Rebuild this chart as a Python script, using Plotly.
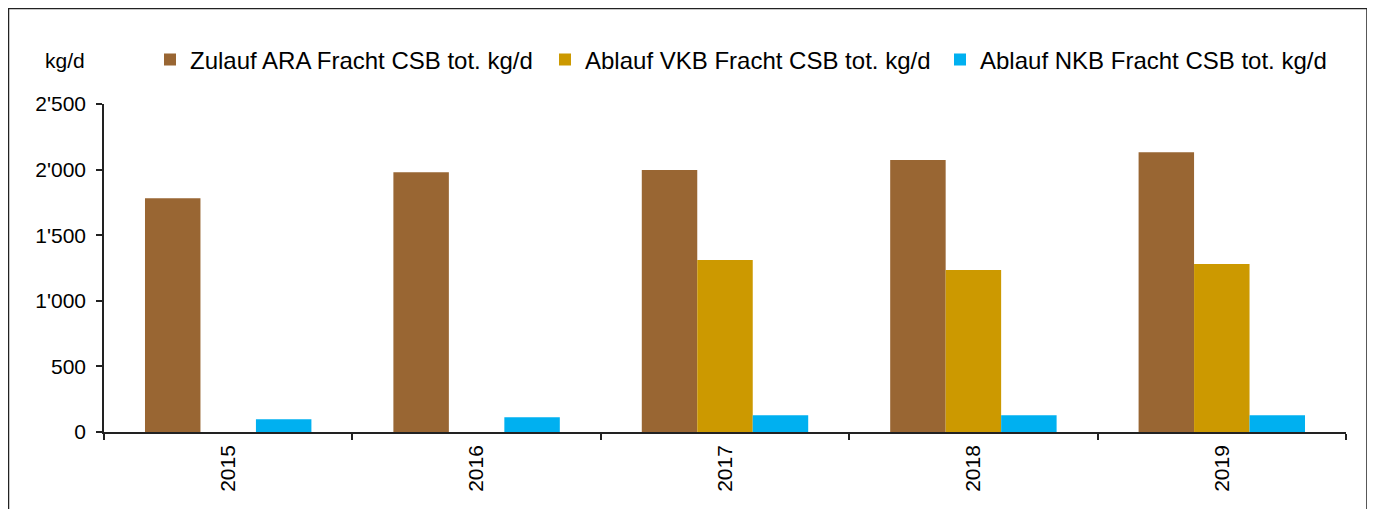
import plotly.graph_objects as go

years = ["2015", "2016", "2017", "2018", "2019"]
zulauf_ara = [1781, 1980, 1997, 2073, 2132]
ablauf_vkb = [None, None, 1311, 1235, 1280]
ablauf_nkb = [97, 112, 127, 127, 127]

names = [
    "Zulauf ARA Fracht CSB tot. kg/d",
    "Ablauf VKB Fracht CSB tot. kg/d",
    "Ablauf NKB Fracht CSB tot. kg/d",
]
colors = ["#996633", "#CC9900", "#00B0F0"]
y_ticks = [0, 500, 1000, 1500, 2000, 2500]

FONT = "Liberation Sans, Arial, sans-serif"

fig = go.Figure()
for name, vals, col in zip(names, [zulauf_ara, ablauf_vkb, ablauf_nkb], colors):
    fig.add_trace(go.Bar(x=years, y=vals, name=name, marker=dict(color=col, line=dict(width=0))))

# page has an 8px body margin; work in page coordinates and convert
OFF = 8
PW, PH = 1375, 509
W, H = PW - OFF, PH - OFF
L, T = 104, 104            # page coords of plot area left/top
RIGHT, BOTTOM = 1346, 432  # page coords of plot area right/bottom
l, t = L - OFF, T - OFF
r, b = PW - RIGHT, PH - BOTTOM
pw, ph = RIGHT - L, BOTTOM - T

def px(x):
    return (x - L) / pw

def py(y):
    return (BOTTOM - y) / ph

fig.update_layout(
    width=W, height=H,
    margin=dict(l=l, r=r, t=t, b=b),
    paper_bgcolor="white", plot_bgcolor="white",
    barmode="group", bargap=0.33, bargroupgap=0,
    separators=".'",
    font=dict(family=FONT, size=21, color="black"),
    showlegend=True,
    legend=dict(
        orientation="h", x=px(150), xanchor="left", y=py(60), yanchor="middle",
        font=dict(family=FONT, size=24, color="black"),
        entrywidth=350, entrywidthmode="pixels", itemwidth=30,
        bgcolor="rgba(0,0,0,0)", traceorder="normal",
    ),
    xaxis=dict(
        type="category", tickson="boundaries", ticks="outside", ticklen=6,
        tickwidth=1.5, tickcolor="#222", showline=True, linecolor="#222", linewidth=1.5,
        tickangle=-90, showgrid=False, tickfont=dict(size=21), ticklabelstandoff=3,
    ),
    yaxis=dict(
        range=[0, 2500], tickvals=y_ticks, tickformat=",d", ticks="outside", ticklen=6,
        tickwidth=1.5, tickcolor="#222", showline=True, linecolor="#222", linewidth=1.5,
        showgrid=False, zeroline=False, tickfont=dict(size=21), ticklabelstandoff=6,
    ),
    annotations=[
        dict(text="kg/d", xref="paper", yref="paper", x=px(65), y=py(60),
             xanchor="center", yanchor="middle", showarrow=False,
             font=dict(family=FONT, size=21, color="black")),
    ],
    shapes=[
        dict(type="rect", xref="paper", yref="paper",
             x0=px(8.5), x1=px(1367), y0=py(530), y1=py(8.5),
             line=dict(color="#222", width=1.5), fillcolor="rgba(0,0,0,0)", layer="below"),
    ],
)

fig.write_html("out.html")
